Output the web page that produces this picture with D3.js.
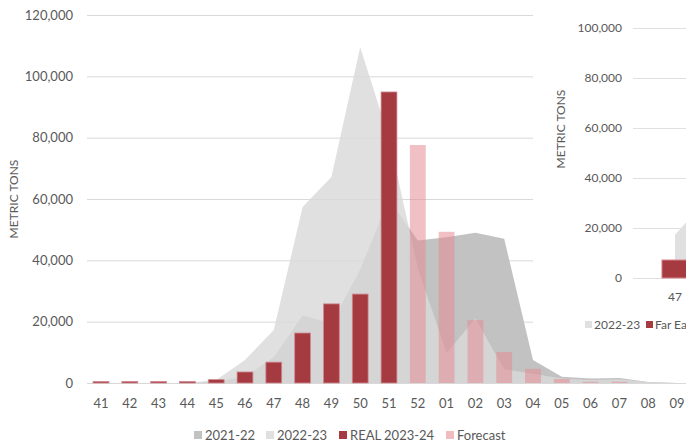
<!DOCTYPE html>
<html><head><meta charset="utf-8">
<script src="https://cdn.jsdelivr.net/npm/d3@7/dist/d3.min.js"></script>
<style>
body{margin:0;background:#fff;}
text{font-family:Lato, "Open Sans", sans-serif;fill:#595959;}
</style></head>
<body><svg id="c" width="686" height="447"></svg>
<script>
const categories = ["41","42","43","44","45","46","47","48","49","50","51","52","01","02","03","04","05","06","07","08","09"];
const s2021 = [0,0,0,0,500,2000,8500,22000,19500,37000,60000,46500,47500,49000,47000,7500,2000,1500,1600,300,0];
const s2022 = [0,0,0,0,1000,7500,17300,57400,67200,109500,80000,37500,9800,21000,4500,3000,1500,1000,1200,300,0];
const real2324 = [500,500,500,500,1100,3600,6800,16300,25800,29000,94900,null,null,null,null,null,null,null,null,null,null];
const forecast = [null,null,null,null,null,null,null,null,null,null,null,77600,49300,20500,10100,4600,1300,400,400,null,null];
const yTicks = [0,20000,40000,60000,80000,100000,120000];
const legendLabels = ["2021-22","2022-23","REAL 2023-24","Forecast"];

const insetCategories = ["47","48"];
const inset2022 = [17300,57400];
const insetFarEast = [7200,null];
const insetTicks = [0,20000,40000,60000,80000,100000];
const insetLegend = ["2022-23","Far East"];

const C_DARK="#c2c2c2", C_LIGHT="#d9d9d9", C_RED="#a63a41", C_PINK="#e38d94", C_GRID="#d9d9d9";

const svg=d3.select("#c");
const x=d3.scaleBand().domain(categories).range([86.6,691.4]).paddingInner(0.45).paddingOuter(0.225);
const y=d3.scaleLinear().domain([0,120000]).range([383,15]);
const cx=c=>x(c)+x.bandwidth()/2;

svg.append("g").selectAll("line").data(yTicks).join("line")
  .attr("x1",87).attr("x2",686).attr("y1",d=>y(d)+0.5).attr("y2",d=>y(d)+0.5)
  .attr("stroke",C_GRID).attr("stroke-width",1);
svg.append("g").selectAll("text").data(yTicks).join("text")
  .attr("x",73).attr("y",d=>y(d)).attr("dy","0.35em").attr("text-anchor","end")
  .attr("font-size",13).text(d=>d3.format(",")(d));

const area=d3.area().x((d,i)=>cx(categories[i])).y0(y(0)).y1(d=>y(d));
svg.append("path").datum(s2021).attr("d",area).attr("fill",C_DARK);
svg.append("path").datum(s2022).attr("d",area).attr("fill",C_LIGHT).attr("fill-opacity",0.82);

const bw=x.bandwidth();
svg.append("g").selectAll("rect").data(real2324.map((v,i)=>({v,c:categories[i]})).filter(d=>d.v!=null)).join("rect")
  .attr("x",d=>x(d.c)).attr("width",bw).attr("y",d=>y(d.v)).attr("height",d=>y(0)-y(d.v))
  .attr("fill",C_RED).attr("stroke","#d08a90").attr("stroke-width",0.8);
svg.append("g").selectAll("rect").data(forecast.map((v,i)=>({v,c:categories[i]})).filter(d=>d.v!=null)).join("rect")
  .attr("x",d=>x(d.c)).attr("width",bw).attr("y",d=>y(d.v)).attr("height",d=>y(0)-y(d.v))
  .attr("fill",C_PINK).attr("fill-opacity",0.55);

svg.append("g").selectAll("text").data(categories).join("text")
  .attr("x",d=>cx(d)).attr("y",408).attr("text-anchor","middle").attr("font-size",13).text(d=>d);

svg.append("text").attr("transform","translate(18,199) rotate(-90)").attr("text-anchor","middle")
  .attr("font-size",12).text("METRIC TONS");

const legX=[194,266,339,446];
const legC=[C_DARK,"#e0e0e0",C_RED,"#efbcc0"];
legendLabels.forEach((l,i)=>{
  svg.append("rect").attr("x",legX[i]).attr("y",431).attr("width",8).attr("height",8).attr("fill",legC[i]);
  svg.append("text").attr("x",legX[i]+11).attr("y",435).attr("dy","0.35em").attr("font-size",13).text(l);
});

// inset chart
const ins=svg.append("g");
ins.append("rect").attr("x",533).attr("y",0).attr("width",160).attr("height",345).attr("fill","#fff");
const iy=d3.scaleLinear().domain([0,100000]).range([278,28]);
const ix=d3.scaleBand().domain(insetCategories).range([630,810]).paddingInner(0.71).paddingOuter(0.355);
const icx=c=>ix(c)+ix.bandwidth()/2;
ins.append("g").selectAll("line").data(insetTicks).join("line")
  .attr("x1",633).attr("x2",686).attr("y1",d=>iy(d)+0.5).attr("y2",d=>iy(d)+0.5)
  .attr("stroke","#e0e0e0").attr("stroke-width",1);
ins.append("g").selectAll("text").data(insetTicks).join("text")
  .attr("x",622).attr("y",d=>iy(d)).attr("dy","0.35em").attr("text-anchor","end")
  .attr("font-size",12).text(d=>d3.format(",")(d));
const iarea=d3.area().x((d,i)=>icx(insetCategories[i])).y0(iy(0)).y1(d=>iy(d));
ins.append("path").datum(inset2022).attr("d",iarea).attr("fill","#e0e0e0");
ins.append("g").selectAll("rect").data(insetFarEast.map((v,i)=>({v,c:insetCategories[i]})).filter(d=>d.v!=null)).join("rect")
  .attr("x",d=>ix(d.c)).attr("width",ix.bandwidth()).attr("y",d=>iy(d.v)).attr("height",d=>iy(0)-iy(d.v))
  .attr("fill",C_RED).attr("stroke","#d9868c").attr("stroke-width",1);
ins.append("g").selectAll("text").data(insetCategories.filter(c=>icx(c)<686)).join("text")
  .attr("x",d=>icx(d)).attr("y",297).attr("dy","0.35em").attr("text-anchor","middle").attr("font-size",12).text(d=>d);
ins.append("text").attr("transform","translate(565,129) rotate(-90)").attr("text-anchor","middle")
  .attr("font-size",12).text("METRIC TONS");
const iLegX=[585,646], iLegC=["#e0e0e0",C_RED];
insetLegend.forEach((l,i)=>{
  ins.append("rect").attr("x",iLegX[i]).attr("y",321).attr("width",7).attr("height",7).attr("fill",iLegC[i]);
  ins.append("text").attr("x",iLegX[i]+9).attr("y",325).attr("dy","0.35em").attr("font-size",12).text(l);
});
</script></body></html>
